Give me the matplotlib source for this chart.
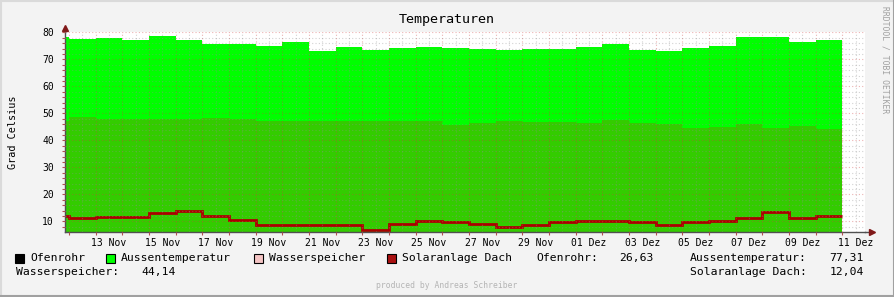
import matplotlib
matplotlib.use("Agg")
import matplotlib.pyplot as plt
import numpy as np
from matplotlib.patches import Rectangle
from matplotlib.lines import Line2D

# daily means, first entry = partial day 11 Nov, then 12 Nov .. 10 Dez
aussen = [78.3, 77.5, 77.9, 77.1, 78.7, 77.1, 75.8, 75.8, 75.0, 76.5,
          73.2, 74.6, 73.6, 74.2, 74.6, 74.2, 73.8, 73.4, 73.8, 73.8,
          74.6, 75.7, 73.4, 73.1, 74.2, 75.0, 78.3, 78.3, 76.4, 77.3]
wasser = [47.0, 48.6, 47.9, 47.9, 47.9, 47.9, 48.2, 47.9, 47.1, 47.1,
          47.1, 47.1, 47.1, 47.1, 47.1, 45.6, 46.4, 47.1, 46.8, 46.8,
          46.4, 47.5, 46.4, 46.0, 44.7, 45.0, 46.1, 44.6, 45.4, 44.1]
solar = [12.1, 11.2, 11.6, 11.6, 13.0, 13.9, 12.1, 10.6, 8.7, 8.7,
         8.7, 8.7, 6.8, 9.1, 10.0, 9.6, 9.1, 8.0, 8.7, 9.6,
         10.0, 10.0, 9.6, 8.7, 9.6, 10.0, 11.3, 13.6, 11.3, 11.8]

# x labels, one every second day (12 Nov = day 0)
day_names = ["13 Nov", "15 Nov", "17 Nov", "19 Nov", "21 Nov", "23 Nov",
             "25 Nov", "27 Nov", "29 Nov", "01 Dez", "03 Dez", "05 Dez",
             "07 Dez", "09 Dez", "11 Dez"]

series_names = ["Ofenrohr", "Aussentemperatur", "Wasserspeicher", "Solaranlage Dach"]
series_colors = ["#000000", "#00FF00", "#F4C4C4", "#AA1111"]
last_values = {"Ofenrohr": "26,63", "Aussentemperatur": "77,31",
               "Wasserspeicher": "44,14", "Solaranlage Dach": "12,04"}

W, H = 895, 297
MONO = "DejaVu Sans Mono"
plt.rcParams["font.family"] = MONO

fig = plt.figure(figsize=(W / 100, H / 100), dpi=100, facecolor="#F3F3F3")

def fx(px):
    return px / W

def fy(py):
    return 1 - py / H

ax = fig.add_axes([fx(65), fy(232.3), 800 / W, 200 / H])
ax.set_facecolor("white")

xmin, xmax = -0.15, 29.85
ymin, ymax = 5.93, 80.0
edges = np.concatenate([[xmin], np.arange(0, len(aussen))])

ax.stairs(aussen, edges, fill=True, color="#00FF00", baseline=ymin, lw=0)
ax.stairs(wasser, edges, fill=True, color="#33CC00", baseline=ymin, lw=0)
ax.stairs(solar, edges, color="#AA0000", lw=2, baseline=None)

ax.set_xlim(xmin, xmax)
ax.set_ylim(ymin, ymax)

# grid: red major lines at midnight / every 10, grey minor at noon / every 2
ax.set_yticks(np.arange(10, 81, 10))
ax.set_yticks(np.arange(8, 81, 2), minor=True)
ax.set_xticks(np.arange(0, 30))
ax.set_xticks(np.arange(0, 30) + 0.5, minor=True)
ax.set_xticklabels([])
minor_labels = ["" for _ in range(30)]
for i, name in enumerate(day_names):
    minor_labels[1 + 2 * i] = name
ax.set_xticklabels(minor_labels, minor=True)
ax.set_axisbelow(False)
ax.grid(True, which="major", color="#D04040", alpha=0.4, ls=(0, (1, 2)), lw=0.8)
ax.grid(True, which="minor", color="#909090", alpha=0.4, ls=(0, (1, 2)), lw=0.8)

ax.tick_params(axis="both", which="both", length=2, width=0.8, color="#B05050",
               labelsize=7, labelcolor="black")
ax.tick_params(axis="y", which="major", pad=6)
ax.tick_params(axis="x", which="minor", pad=4, length=0)

for s in ["top", "right"]:
    ax.spines[s].set_visible(False)
for s in ["left", "bottom"]:
    ax.spines[s].set_color("#505050")
    ax.spines[s].set_linewidth(1)

# axis extensions with arrows
ax.add_line(Line2D([xmax, xmax + 0.2], [ymin, ymin], color="#505050", lw=1, clip_on=False))
ax.plot([xmax + 0.25], [ymin], marker=">", color="#801818", ms=4, clip_on=False)
ax.add_line(Line2D([xmin, xmin], [ymax, ymax + 1.5], color="#505050", lw=1, clip_on=False))
ax.plot([xmin], [ymax + 1.7], marker="^", color="#801818", ms=4, clip_on=False)

ax.set_ylabel("Grad Celsius", fontsize=7.3, labelpad=17.5)

fig.text(fx(447), fy(20), "Temperaturen", ha="center", va="center", fontsize=9.6)

# legend row
box_x = [15, 106, 254, 387]
text_x = [30, 121, 269, 402]
row1, row2 = 257.7, 272
for name, color, bx, tx in zip(series_names, series_colors, box_x, text_x):
    fig.patches.append(Rectangle((fx(bx), fy(262.7)), 9 / W, 9 / H,
                                 transform=fig.transFigure, facecolor=color,
                                 edgecolor="black", lw=0.8))
    fig.text(fx(tx), fy(row1), name, ha="left", va="center", fontsize=8.2)

stats = [("Ofenrohr", 536, 654, row1), ("Aussentemperatur", 690, 864, row1),
         ("Wasserspeicher", 16, 176, row2), ("Solaranlage Dach", 690, 864, row2)]
for name, lx, rx, ry in stats:
    fig.text(fx(lx), fy(ry), name + ":", ha="left", va="center", fontsize=8.2)
    fig.text(fx(rx), fy(ry), last_values[name], ha="right", va="center", fontsize=8.2)

fig.text(fx(447), fy(286), "produced by Andreas Schreiber", ha="center", va="center",
         fontsize=5.8, color="#B4B4B4")
fig.text(fx(885), fy(60), "RRDTOOL / TOBI OETIKER", ha="center", va="center",
         rotation=270, fontsize=5.8, color="#A0A0A0")

# 3d frame around the image
fig.add_artist(Line2D([0, 1], [fy(0.7), fy(0.7)], transform=fig.transFigure, color="#DADADA", lw=1.5))
fig.add_artist(Line2D([fx(0.7), fx(0.7)], [0, 1], transform=fig.transFigure, color="#DADADA", lw=1.5))
fig.add_artist(Line2D([0, 1], [fy(296), fy(296)], transform=fig.transFigure, color="#A0A0A0", lw=1.5))
fig.add_artist(Line2D([fx(894), fx(894)], [0, 1], transform=fig.transFigure, color="#A0A0A0", lw=1.5))

fig.savefig("out.png", dpi=100, facecolor=fig.get_facecolor())
